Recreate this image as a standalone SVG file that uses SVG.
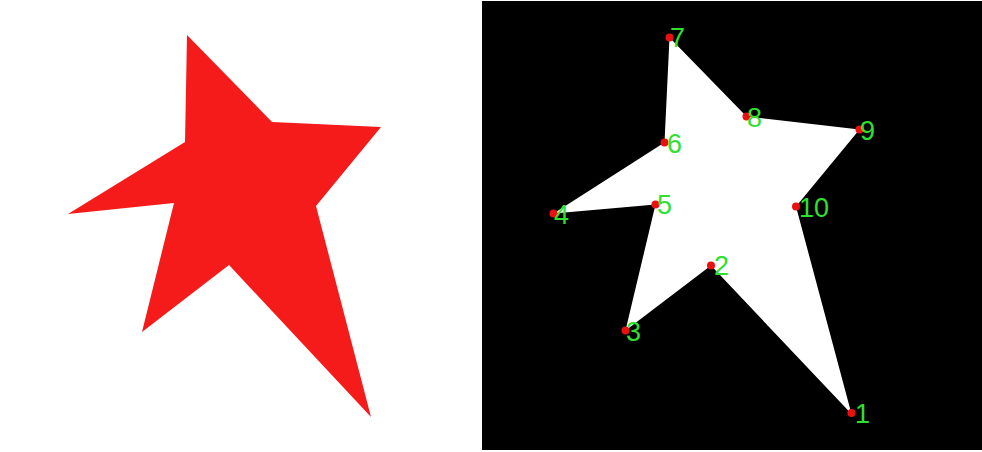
<svg xmlns="http://www.w3.org/2000/svg" width="982" height="452" viewBox="0 0 982 452">
<style>
.lbl{font-family:"Liberation Sans",Arial,sans-serif;font-size:27px;fill:#30e030}
.dot{fill:#e81010}
</style>
<rect x="0" y="0" width="982" height="452" fill="#ffffff"/>
<g id="left-shape">
<polygon points="187,35 272,122 381,127 316,206 371,417 229,265 142,332 174,203 68,214 185,142" fill="#f51b1b"/>
</g>
<g id="right-panel">
<rect x="482" y="1" width="500" height="449" fill="#000000"/>
<polygon points="851.5,414 711,265.5 625.5,330.5 655.5,204.5 553.5,213.5 664.5,142.5 669.5,37.5 746.5,116.5 859.5,129.5 796,206.5" fill="#ffffff"/>
</g>
<g id="v1"><circle class="dot" cx="851.5" cy="413" r="4"/><text class="lbl" x="855" y="423">1</text></g>
<g id="v2"><circle class="dot" cx="711" cy="265.5" r="4"/><text class="lbl" x="714" y="275">2</text></g>
<g id="v3"><circle class="dot" cx="625.5" cy="330.5" r="4"/><text class="lbl" x="626" y="341">3</text></g>
<g id="v4"><circle class="dot" cx="553.5" cy="213.5" r="4"/><text class="lbl" x="554" y="224">4</text></g>
<g id="v5"><circle class="dot" cx="655.5" cy="204.5" r="4"/><text class="lbl" x="657" y="214">5</text></g>
<g id="v6"><circle class="dot" cx="664.5" cy="142.5" r="4"/><text class="lbl" x="667" y="153">6</text></g>
<g id="v7"><circle class="dot" cx="669.5" cy="37.5" r="4"/><text class="lbl" x="670" y="47">7</text></g>
<g id="v8"><circle class="dot" cx="746.5" cy="116.5" r="4"/><text class="lbl" x="747" y="127">8</text></g>
<g id="v9"><circle class="dot" cx="859.5" cy="129.5" r="4"/><text class="lbl" x="860" y="140">9</text></g>
<g id="v10"><circle class="dot" cx="796" cy="206.5" r="4"/><text class="lbl" x="799" y="217">10</text></g>
</svg>
